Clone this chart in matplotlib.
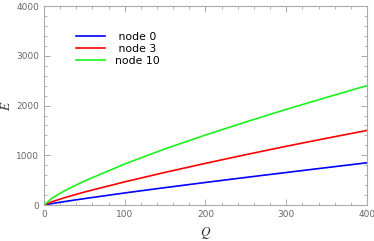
import matplotlib
matplotlib.use("Agg")
import matplotlib.pyplot as plt
from matplotlib.ticker import MultipleLocator

plt.rcParams["mathtext.fontset"] = "stix"

# values
Q = [0, 10, 25, 50, 100, 150, 200, 250, 300, 350, 400]
E_node0 = [0, 31, 70, 130, 244, 351, 455, 556, 655, 753, 850]
E_node3 = [0, 68, 146, 262, 467, 658, 839, 1013, 1182, 1343, 1500]
E_node10 = [0, 140, 283, 483, 826, 1130, 1408, 1670, 1923, 2164, 2400]

fig = plt.figure(figsize=(3.74, 2.41), dpi=100)
ax = fig.add_axes([0.1176, 0.149, 0.8636, 0.826])

ax.plot(Q, E_node0, color=(0, 0, 1), lw=1.2, label=" node 0")
ax.plot(Q, E_node3, color=(1, 0, 0), lw=1.2, label=" node 3")
ax.plot(Q, E_node10, color=(0.1, 0.95, 0.1), lw=1.2, label="node 10")

ax.set_xlim(0, 400)
ax.set_ylim(0, 4000)
ax.xaxis.set_major_locator(MultipleLocator(100))
ax.xaxis.set_minor_locator(MultipleLocator(20))
ax.yaxis.set_major_locator(MultipleLocator(1000))
ax.yaxis.set_minor_locator(MultipleLocator(200))

gray = "#999999"
for s in ax.spines.values():
    s.set_color("#aaaaaa")
    s.set_linewidth(0.8)
ax.tick_params(which="both", direction="in", top=True, right=True,
               color=gray, labelcolor="#666666", labelsize=6.5)
ax.tick_params(which="major", length=4, width=0.6)
ax.tick_params(which="minor", length=2, width=0.5)

ax.set_xlabel("$Q$", fontsize=9.5, color="#333333")
ax.set_ylabel("$E$", fontsize=9.5, color="#333333")
ax.xaxis.set_label_coords(0.5, -0.1)
ax.yaxis.set_label_coords(-0.095, 0.5)

ax.legend(loc="upper left", bbox_to_anchor=(0.07, 0.92), frameon=False,
          fontsize=7.8, handlelength=2.6, handletextpad=1.0,
          labelspacing=0.2)

fig.savefig("out.png", dpi=100)
